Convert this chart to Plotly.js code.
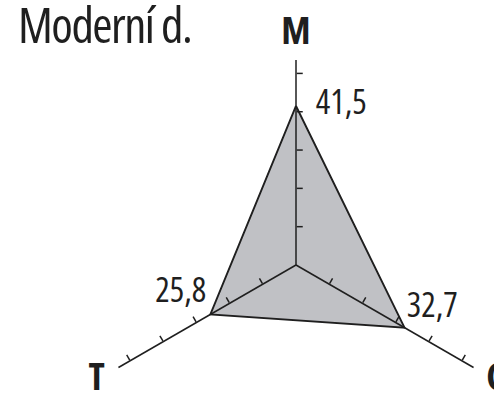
<!DOCTYPE html>
<html>
<head>
<meta charset="utf-8">
<script src="https://cdn.plot.ly/plotly-3.0.1.min.js"></script>
<style>
html,body{margin:0;padding:0;overflow:hidden;background:#fff;width:494px;height:394px;}
#chart{width:560px;height:520px;}
text{font-stretch:condensed !important;}
.gtitle{letter-spacing:-1.5px;}
</style>
</head>
<body>
<div id="chart"></div>
<script>
// Data
var axesLabels = ['M', 'C', 'T'];
var values = [41.5, 32.7, 25.8];
var chartTitle = 'Moderní d.';
var radialTicks = [10, 20, 30, 40, 50];
var radialMax = 53.5;

var FONT = '"Open Sans", "Roboto", sans-serif';
var INK = '#1f1f1f';

var W = 560, H = 520;
var cx = 296, cy = 265, R = 205;
var pxPerUnit = R / radialMax;
function domainFor(rad) {
  return {
    x: [(cx - rad) / W, (cx + rad) / W],
    y: [(H - (cy + rad)) / H, (H - (cy - rad)) / H]
  };
}
var labelRadius = radialMax + 6.6;
var labelRangeMax = radialMax + 8;

var thetaClosed = axesLabels.concat([axesLabels[0]]);
var rClosed = values.concat([values[0]]);
var labels = values.map(function (v) { return v.toFixed(1).replace('.', ','); }).concat(['']);

var polygon = {
  type: 'scatterpolar',
  subplot: 'polar',
  r: rClosed,
  theta: thetaClosed,
  mode: 'lines+markers+text',
  cliponaxis: false,
  fill: 'toself',
  fillcolor: '#c0c1c5',
  line: {color: INK, width: 1.9},
  marker: {size: [30, 2, 5, 0], color: 'rgba(0,0,0,0)', line: {width: 0, color: 'rgba(0,0,0,0)'}},
  text: labels,
  textposition: ['middle right', 'top right', 'top left', 'middle right'],
  textfont: {family: FONT, size: 34, color: INK},
  hoverinfo: 'skip',
  showlegend: false
};

var axisNames = {
  type: 'scatterpolar',
  subplot: 'polar4',
  r: axesLabels.map(function () { return labelRadius; }),
  theta: axesLabels,
  text: axesLabels,
  mode: 'text',
  cliponaxis: false,
  textposition: 'middle center',
  textfont: {family: FONT, size: 38, color: INK, weight: 'bold'},
  hoverinfo: 'skip',
  showlegend: false
};

function ghost(sp) {
  return {
    type: 'scatterpolar', subplot: sp, r: values, theta: axesLabels,
    mode: 'lines', line: {width: 0, color: 'rgba(0,0,0,0)'},
    hoverinfo: 'skip', showlegend: false
  };
}

function angular() {
  return {
    type: 'category',
    categoryorder: 'array',
    categoryarray: axesLabels,
    rotation: 90,
    direction: 'clockwise',
    showline: false,
    showgrid: false,
    showticklabels: false,
    ticks: ''
  };
}

function polarLayout(angle, side) {
  return {
    domain: domainFor(R),
    hole: 0,
    bgcolor: 'rgba(0,0,0,0)',
    angularaxis: angular(),
    radialaxis: {
      range: [0, radialMax],
      angle: angle,
      side: side,
      showline: true,
      linecolor: INK,
      linewidth: 1.5,
      showgrid: false,
      ticks: 'outside',
      ticklen: 6,
      tickwidth: 1.5,
      tickcolor: INK,
      tickmode: 'array',
      tickvals: radialTicks,
      showticklabels: false
    }
  };
}

var layout = {
  width: W, height: H,
  margin: {l: 0, r: 0, t: 0, b: 0},
  paper_bgcolor: '#ffffff',
  showlegend: false,
  title: {
    text: chartTitle,
    font: {family: FONT, size: 49, color: INK},
    xref: 'container', yref: 'container',
    x: 18 / W, xanchor: 'left',
    y: 1 - 9 / H, yanchor: 'top'
  },
  polar: polarLayout(90, 'clockwise'),
  polar2: polarLayout(-30, 'counterclockwise'),
  polar3: polarLayout(210, 'clockwise'),
  polar4: {
    domain: domainFor(labelRangeMax * pxPerUnit),
    hole: 0,
    bgcolor: 'rgba(0,0,0,0)',
    angularaxis: angular(),
    radialaxis: {range: [0, labelRangeMax], visible: false, showline: false, showgrid: false, ticks: '', showticklabels: false}
  }
};

Plotly.newPlot('chart', [ghost('polar2'), ghost('polar3'), polygon, axisNames], layout, {staticPlot: true, displayModeBar: false});
</script>
</body>
</html>
